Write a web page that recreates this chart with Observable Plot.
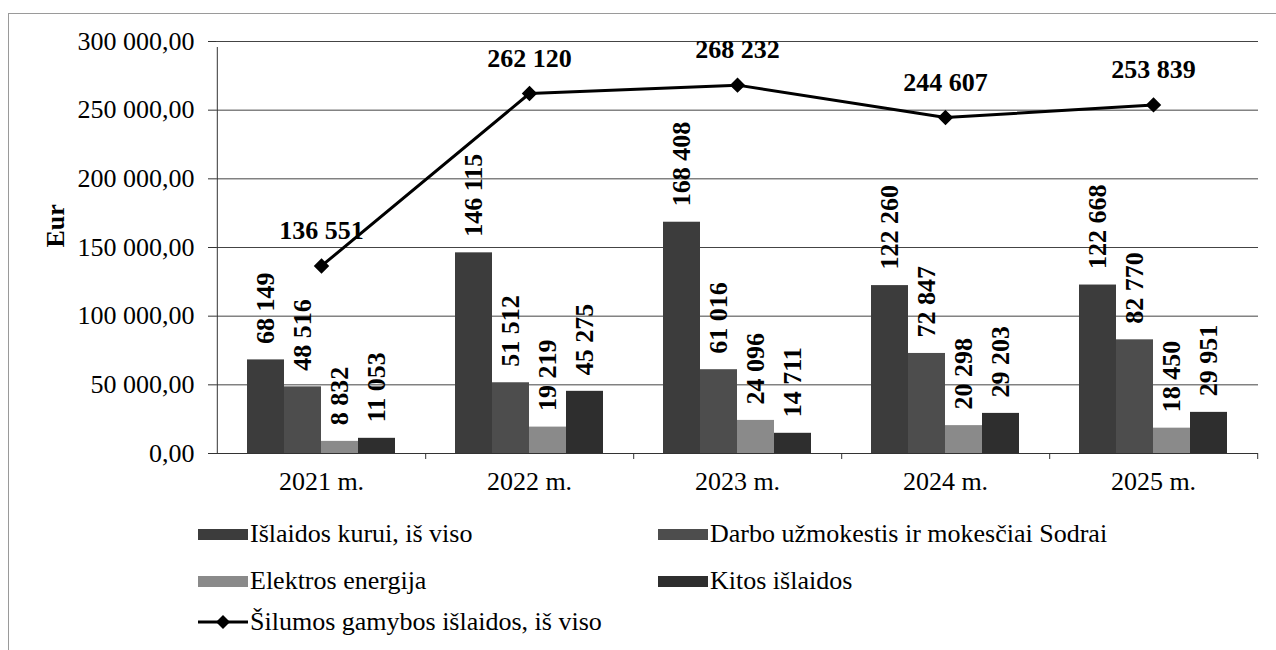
<!DOCTYPE html>
<html>
<head>
<meta charset="utf-8">
<script src="https://cdn.jsdelivr.net/npm/d3@7"></script>
<script src="https://cdn.jsdelivr.net/npm/@observablehq/plot@0.6"></script>
<style>
  html, body { margin: 0; padding: 0; background: #fff; }
  #wrap { position: relative; width: 1276px; height: 650px; overflow: hidden; font-family: "Liberation Serif", "DejaVu Serif", serif; color: #000; }
  #frame { position: absolute; left: 8px; top: 13px; width: 1300px; height: 700px; border-top: 1px solid #9a9a9a; border-left: 1px solid #9a9a9a; }
  .layer { position: absolute; left: 0; top: 0; }
  .legend-item { position: absolute; display: flex; align-items: center; font-size: 26px; line-height: 1; white-space: nowrap; }
  .sw { width: 50px; height: 11px; margin-right: 2px; }
</style>
</head>
<body>
<div id="wrap">
  <div id="frame"></div>
  <div id="base" class="layer"></div>
  <div id="bars" class="layer"></div>
  <div id="legend" class="layer"></div>
</div>
<script>
// ---- data ----
const years = ["2021 m.", "2022 m.", "2023 m.", "2024 m.", "2025 m."];
const seriesNames = [
  "Išlaidos kurui, iš viso",
  "Darbo užmokestis ir mokesčiai Sodrai",
  "Elektros energija",
  "Kitos išlaidos"
];
const lineName = "Šilumos gamybos išlaidos, iš viso";
const fuel        = [68149, 146115, 168408, 122260, 122668];
const wages       = [48516, 51512, 61016, 72847, 82770];
const electricity = [8832, 19219, 24096, 20298, 18450];
const other       = [11053, 45275, 14711, 29203, 29951];
const total       = [136551, 262120, 268232, 244607, 253839];
const yTicks = [0, 50000, 100000, 150000, 200000, 250000, 300000];
const barColors = ["#3c3c3c", "#4d4d4d", "#8a8a8a", "#2e2e2e"];

// ---- tables built from the arrays ----
const seriesValues = [fuel, wages, electricity, other];
const barData = [];
years.forEach((year, i) => {
  seriesNames.forEach((s, j) => barData.push({year, series: s, value: seriesValues[j][i]}));
});
const lineData = years.map((year, i) => ({year, total: total[i]}));

// ---- layout ----
const W = 1276, H = 490, ML = 216, MR = 18, MT = 41, MB = 37;
const step = (W - ML - MR) / years.length;
const FS = 26;
const FONT = "'Liberation Serif', 'DejaVu Serif', serif";
const fmtAxis = d => d3.format(",.2f")(d).replace(/,/g, " ").replace(".", ",");
const fmtVal = d => d3.format(",")(d).replace(/,/g, " ");

const base = Plot.plot({
  width: W, height: H,
  marginLeft: ML, marginRight: MR, marginTop: MT, marginBottom: MB,
  style: {fontFamily: FONT, background: "transparent", color: "#000", overflow: "visible"},
  x: {type: "point", domain: years, padding: 0.5, axis: null},
  y: {domain: [0, 300000], axis: null},
  marks: [
    Plot.gridY(yTicks, {stroke: "#444", strokeOpacity: 1}),
    Plot.ruleY([0], {stroke: "#333"}),
    Plot.axisY(yTicks, {tickFormat: fmtAxis, tickSize: 8, tickPadding: 14, fontSize: FS, label: null, stroke: "#333"}),
    Plot.ruleX([years[0]], {dx: -step / 2, y1: 0, y2: 300000, insetBottom: -6, stroke: "#333"}),
    Plot.ruleX(years, {dx: step / 2, y1: 0, y2: 0, insetBottom: -6, stroke: "#333"}),
    Plot.axisX(years, {tickSize: 0, tickPadding: 18, fontSize: FS, label: null}),
    Plot.text(["Eur"], {frameAnchor: "left", dx: -161, rotate: -90, fontSize: FS, fontWeight: "bold"}),
    Plot.line(lineData, {x: "year", y: "total", stroke: "#000", strokeWidth: 3}),
    Plot.dot(lineData, {x: "year", y: "total", symbol: "diamond2", r: 6, fill: "#000", stroke: "#000"}),
    Plot.text(lineData, {x: "year", y: "total", text: d => fmtVal(d.total), dy: -35, fontSize: FS, fontWeight: "bold"})
  ]
});
document.getElementById("base").appendChild(base);

const bars = Plot.plot({
  width: W, height: H,
  marginLeft: ML, marginRight: MR, marginTop: MT, marginBottom: MB,
  style: {fontFamily: FONT, background: "transparent", color: "#000", overflow: "visible"},
  fx: {domain: years, padding: 0, axis: null, label: null},
  x: {domain: seriesNames, paddingInner: 0, paddingOuter: 0.742, axis: null},
  y: {domain: [0, 300000], axis: null},
  color: {domain: seriesNames, range: barColors},
  marks: [
    Plot.barY(barData, {fx: "year", x: "series", y: "value", fill: "series"}),
    Plot.text(barData, {fx: "year", x: "series", y: "value", text: d => fmtVal(d.value),
      rotate: -90, textAnchor: "start", dy: -16, fontSize: FS, fontWeight: "bold"})
  ]
});
document.getElementById("bars").appendChild(bars);

// ---- legend ----
const legend = document.getElementById("legend");
const items = [
  {label: seriesNames[0], color: barColors[0], left: 198, cy: 534},
  {label: seriesNames[1], color: barColors[1], left: 658, cy: 534},
  {label: seriesNames[2], color: barColors[2], left: 198, cy: 581},
  {label: seriesNames[3], color: barColors[3], left: 658, cy: 581},
  {label: lineName, line: true, left: 198, cy: 622}
];
items.forEach(it => {
  const el = document.createElement("div");
  el.className = "legend-item";
  el.style.left = it.left + "px";
  el.style.top = (it.cy - 14) + "px";
  el.style.height = "28px";
  if (it.line) {
    const svgNS = "http://www.w3.org/2000/svg";
    const svg = document.createElementNS(svgNS, "svg");
    svg.setAttribute("width", 50); svg.setAttribute("height", 16);
    svg.style.marginRight = "2px";
    svg.innerHTML = '<line x1="0" y1="8" x2="50" y2="8" stroke="#000" stroke-width="3"/>' +
      '<path d="M25,1 L32,8 L25,15 L18,8 Z" fill="#000"/>';
    el.appendChild(svg);
  } else {
    const sw = document.createElement("div");
    sw.className = "sw";
    sw.style.background = it.color;
    el.appendChild(sw);
  }
  const tx = document.createElement("span");
  tx.textContent = it.label;
  el.appendChild(tx);
  legend.appendChild(el);
});
</script>
</body>
</html>
